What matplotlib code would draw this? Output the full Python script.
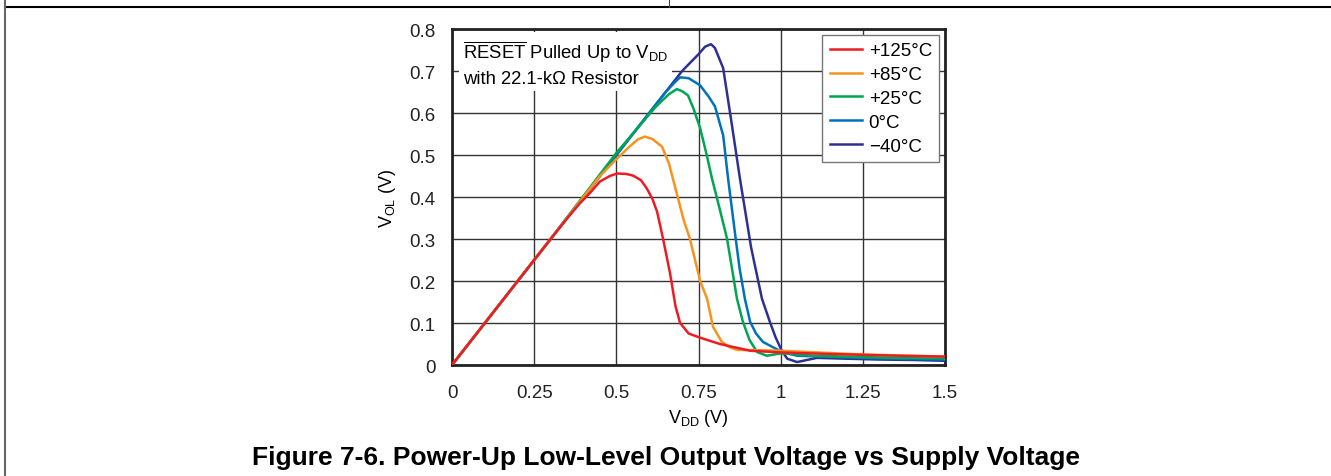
import matplotlib
matplotlib.use('Agg')
import matplotlib.pyplot as plt
from matplotlib.lines import Line2D

plt.rcParams['font.family'] = ['Liberation Sans', 'DejaVu Sans']
plt.rcParams['mathtext.fontset'] = 'custom'
plt.rcParams['mathtext.rm'] = 'Liberation Sans'
plt.rcParams['mathtext.it'] = 'Liberation Sans:italic'
plt.rcParams['mathtext.bf'] = 'Liberation Sans:bold'

# V_OL vs V_DD curves
x_m40 = [0, 0.3, 0.5, 0.7, 0.75, 0.77, 0.788, 0.80, 0.825, 0.85, 0.876, 0.91, 0.943, 0.967, 0.985, 1.004, 1.02, 1.05, 1.08, 1.11, 1.2, 1.3, 1.4, 1.5]
y_m40 = [0, 0.3, 0.5, 0.70, 0.74, 0.758, 0.764, 0.755, 0.707, 0.58, 0.444, 0.28, 0.158, 0.103, 0.065, 0.033, 0.015, 0.007, 0.012, 0.017, 0.015, 0.013, 0.012, 0.01]

x_0 = [0, 0.3, 0.5, 0.65, 0.68, 0.694, 0.72, 0.755, 0.78, 0.80, 0.825, 0.84, 0.86, 0.875, 0.891, 0.907, 0.925, 0.946, 0.975, 1.004, 1.05, 1.2, 1.35, 1.5]
y_0 = [0, 0.3, 0.5, 0.65, 0.675, 0.685, 0.683, 0.666, 0.64, 0.616, 0.547, 0.444, 0.32, 0.23, 0.158, 0.103, 0.075, 0.055, 0.043, 0.031, 0.022, 0.018, 0.015, 0.013]

x_25 = [0, 0.3, 0.5, 0.62, 0.66, 0.684, 0.70, 0.718, 0.735, 0.755, 0.775, 0.791, 0.815, 0.837, 0.867, 0.885, 0.905, 0.928, 0.958, 0.98, 1.004, 1.1, 1.3, 1.5]
y_25 = [0, 0.3, 0.505, 0.615, 0.645, 0.657, 0.652, 0.642, 0.61, 0.564, 0.50, 0.444, 0.37, 0.30, 0.158, 0.103, 0.06, 0.031, 0.022, 0.025, 0.028, 0.022, 0.018, 0.016]

x_85 = [0, 0.3, 0.45, 0.5, 0.54, 0.565, 0.587, 0.61, 0.639, 0.66, 0.672, 0.69, 0.705, 0.724, 0.755, 0.776, 0.794, 0.821, 0.845, 0.867, 0.95, 1.0, 1.25, 1.5]
y_85 = [0, 0.3, 0.45, 0.49, 0.52, 0.537, 0.544, 0.538, 0.52, 0.48, 0.444, 0.39, 0.345, 0.30, 0.2, 0.158, 0.091, 0.055, 0.042, 0.036, 0.035, 0.034, 0.025, 0.02]

x_125 = [0, 0.3, 0.35, 0.389, 0.42, 0.45, 0.48, 0.502, 0.53, 0.551, 0.575, 0.593, 0.61, 0.624, 0.642, 0.663, 0.68, 0.694, 0.72, 0.755, 0.815, 0.907, 1.0, 1.16, 1.363, 1.5]
y_125 = [0, 0.3, 0.349, 0.385, 0.41, 0.437, 0.45, 0.456, 0.455, 0.451, 0.44, 0.42, 0.395, 0.365, 0.301, 0.22, 0.14, 0.1, 0.075, 0.065, 0.05, 0.034, 0.03, 0.026, 0.022, 0.02]

labels = ['+125°C', '+85°C', '+25°C', '0°C', '\u221240°C']
colors = ['#ED1C24', '#F7941D', '#00A651', '#0072BC', '#2E3192']

x_ticks = [0, 0.25, 0.5, 0.75, 1, 1.25, 1.5]
x_ticklabels = ['0', '0.25', '0.5', '0.75', '1', '1.25', '1.5']
y_ticks = [0, 0.1, 0.2, 0.3, 0.4, 0.5, 0.6, 0.7, 0.8]
y_ticklabels = ['0', '0.1', '0.2', '0.3', '0.4', '0.5', '0.6', '0.7', '0.8']

fig = plt.figure(figsize=(13.31, 4.77), dpi=100)
ax = fig.add_axes([0.3396, 0.2327, 0.3704, 0.7043])

series = [(x_125, y_125), (x_85, y_85), (x_25, y_25), (x_0, y_0), (x_m40, y_m40)]
# draw cold curves first so red ends on top
handles = [None] * 5
for i in [4, 3, 2, 1, 0]:
    xs, ys = series[i]
    h, = ax.plot(xs, ys, color=colors[i], lw=1.8, label=labels[i], zorder=3)
    handles[i] = h

ax.set_xlim(0, 1.5)
ax.set_ylim(0, 0.8)
ax.set_xticks(x_ticks)
ax.set_xticklabels(x_ticklabels)
ax.set_yticks(y_ticks)
ax.set_yticklabels(y_ticklabels)
ax.tick_params(length=0, labelsize=13.5, colors='#222222')
ax.tick_params(axis='x', pad=14)
ax.tick_params(axis='y', pad=12)
ax.grid(True, color='#333333', lw=1.0)
ax.set_axisbelow(True)
for s in ax.spines.values():
    s.set_linewidth(2)
    s.set_color('#222222')

ax.set_xlabel('V$_{\\mathrm{DD}}$ (V)', fontsize=13, labelpad=4)
ax.set_ylabel('V$_{\\mathrm{OL}}$ (V)', fontsize=13, labelpad=8)

leg = ax.legend(handles=handles, loc='upper right', fontsize=13.5, fancybox=False,
                framealpha=1, edgecolor='#777777', handlelength=1.7, handletextpad=0.37,
                borderaxespad=0.3, labelspacing=0.36, borderpad=0.4)
leg.get_frame().set_linewidth(1.0)
leg.set_zorder(5)

# note box hides the grid but stays under the curves
ax.text(0.022, 0.972, '$\\overline{\\mathrm{RESET}}$ Pulled Up to V$_{\\mathrm{DD}}$\nwith 22.1-k\u03a9 Resistor',
        transform=ax.transAxes, fontsize=13.3, va='top', ha='left', linespacing=1.45, zorder=2,
        bbox=dict(facecolor='white', edgecolor='none', pad=3))

fig.text(0.5, 0.04, 'Figure 7-6. Power-Up Low-Level Output Voltage vs Supply Voltage',
         ha='center', va='center', fontsize=19, fontweight='bold')

# page frame lines
fig.add_artist(Line2D([5 / 1331, 1], [1 - 8 / 477, 1 - 8 / 477], color='black', lw=1.5))
fig.add_artist(Line2D([5 / 1331, 5 / 1331], [0, 1], color='#666666', lw=1.5))
fig.add_artist(Line2D([669 / 1331, 669 / 1331], [1 - 8 / 477, 1], color='#444444', lw=0.8))

fig.savefig('out.png', dpi=100)
